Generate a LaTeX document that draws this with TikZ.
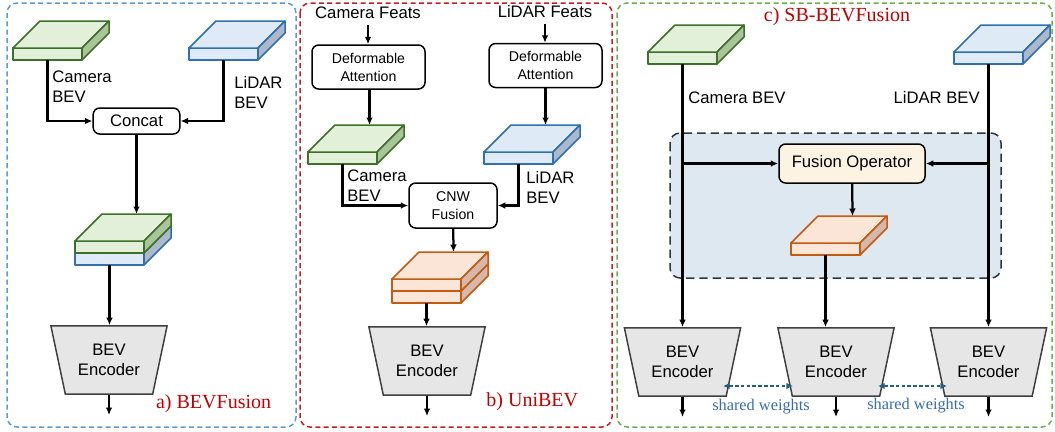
\documentclass[tikz,border=0pt]{standalone}
\usepackage{fontspec}
\setmainfont{Liberation Serif}
\setsansfont{Liberation Sans}
\usetikzlibrary{arrows.meta,shapes.geometric,calc}
\definecolor{camFill}{RGB}{226,240,217}
\definecolor{camSide}{RGB}{170,196,156}
\definecolor{camLine}{RGB}{62,112,40}
\definecolor{lidFill}{RGB}{222,235,247}
\definecolor{lidSide}{RGB}{173,185,202}
\definecolor{lidLine}{RGB}{46,112,176}
\definecolor{fusFill}{RGB}{251,229,214}
\definecolor{fusSide}{RGB}{212,184,172}
\definecolor{fusLine}{RGB}{197,90,17}
\definecolor{encFill}{RGB}{230,230,230}
\definecolor{encLine}{RGB}{64,64,64}
\definecolor{opFill}{RGB}{253,243,226}
\definecolor{regionFill}{RGB}{221,232,241}
\definecolor{regionLine}{RGB}{40,55,70}
\definecolor{frameBlue}{RGB}{91,155,213}
\definecolor{frameRed}{RGB}{200,30,30}
\definecolor{frameGreen}{RGB}{106,176,76}
\definecolor{titleRed}{RGB}{192,0,0}
\definecolor{shareLine}{RGB}{35,95,130}
\definecolor{shareText}{RGB}{55,110,170}

% one BEV feature slab: name, x, y (front top-left), colour prefix
\newcommand{\bevslab}[4]{%
  \begin{scope}[shift={(#2,#3)}, line width=0.9pt, line join=round]
    \filldraw[fill=#4Fill, draw=#4Line] (0,0) rectangle (69,12);
    \filldraw[fill=#4Fill, draw=#4Line] (0,0) -- (27,-27) -- (96,-27) -- (69,0) -- cycle;
    \filldraw[fill=#4Side, draw=#4Line] (69,0) -- (96,-27) -- (96,-15) -- (69,12) -- cycle;
    \coordinate (#1-top) at (61.5,-27);
    \coordinate (#1-bot) at (34.5,12);
  \end{scope}}
% two stacked slabs: name, x, y, top prefix, bottom prefix
\newcommand{\bevstack}[5]{%
  \begin{scope}[shift={(#2,#3)}, line width=0.9pt, line join=round]
    \filldraw[fill=#5Fill, draw=#5Line] (0,12) rectangle (69,24);
    \filldraw[fill=#5Side, draw=#5Line] (69,12) -- (96,-15) -- (96,-3) -- (69,24) -- cycle;
    \filldraw[fill=#4Fill, draw=#4Line] (0,0) rectangle (69,12);
    \filldraw[fill=#4Fill, draw=#4Line] (0,0) -- (27,-27) -- (96,-27) -- (69,0) -- cycle;
    \filldraw[fill=#4Side, draw=#4Line] (69,0) -- (96,-27) -- (96,-15) -- (69,12) -- cycle;
    \coordinate (#1-top) at (61.5,-27);
    \coordinate (#1-bot) at (34.5,24);
  \end{scope}}

\begin{document}
\begin{tikzpicture}[x=0.6pt, y=-0.6pt,
  font=\sffamily\fontsize{10}{12}\selectfont,
  arr/.style={-{Latex[length=4.5pt,width=4pt]}, line width=1.35pt},
  box/.style={draw, rounded corners=4pt, line width=0.9pt, fill=white, align=center, inner sep=1pt},
  small/.style={font=\sffamily\fontsize{8.5}{10.8}\selectfont},
  enc/.style={trapezium, trapezium angle=72, trapezium stretches=true, shape border rotate=180,
    minimum width=70pt, minimum height=41pt, inner sep=0pt, fill=encFill, draw=encLine,
    line width=0.9pt, align=center},
  lbl/.style={align=left, anchor=west, inner sep=0pt},
  panel/.style={dash pattern=on 3pt off 2pt, line width=0.9pt, rounded corners=6pt},
  title/.style={font=\rmfamily\fontsize{12}{14}\selectfont, text=titleRed},
  region/.style={fill=regionFill, draw=regionLine, dash pattern=on 5pt off 3pt, line width=0.9pt, rounded corners=6pt},
  shared/.style={{Latex[length=4pt,width=4pt]}-{Latex[length=4pt,width=4pt]}, dash pattern=on 2.2pt off 1.3pt,
    line width=0.9pt, draw=shareLine},
  sharedlbl/.style={font=\rmfamily\fontsize{9.8}{11}\selectfont, text=shareText}]
  \useasboundingbox (0,0) rectangle (1055,431);

  % a) BEVFusion
  \draw[panel, draw=frameBlue] (7,3) rectangle (296,427);
  \bevslab{camA}{13}{48}{cam}
  \bevslab{lidA}{189}{48}{lid}
  \node[lbl] (camLblA) at (52,87) {Camera\\BEV};
  \node[lbl] (lidLblA) at (234,92) {LiDAR\\BEV};
  \node[box, minimum width=52pt, minimum height=15.6pt] (concat) at (136.5,121) {Concat};
  \bevstack{catA}{75}{241}{cam}{lid}
  \node[enc] (encA) at (109,360) {BEV\\Encoder};
  \coordinate (outA) at (109,415);
  \node[title, anchor=east] (ttlA) at (277,404) {a) BEVFusion};
  \draw[arr] (camA-bot) |- (concat);
  \draw[arr] (lidA-bot) |- (concat);
  \draw[arr] (concat) -- (catA-top);
  \draw[arr] (catA-bot) -- (catA-bot |- encA.north);
  \draw[arr] (encA) -- (outA);

  % b) UniBEV
  \draw[panel, draw=frameRed] (300,3) rectangle (612,427);
  \node (camFeat) at (368,13) {Camera Feats};
  \node (lidFeat) at (545,12) {LiDAR Feats};
  \node[box, small, minimum width=67.8pt, minimum height=26.4pt] (defCam) at (368.5,67) {Deformable\\Attention};
  \node[box, small, minimum width=67.8pt, minimum height=26.4pt] (defLid) at (545.5,65.5) {Deformable\\Attention};
  \bevslab{camB}{308}{152}{cam}
  \bevslab{lidB}{484}{152}{lid}
  \node[lbl] (camLblB) at (347,186) {Camera\\BEV};
  \node[lbl] (lidLblB) at (526,187) {LiDAR\\BEV};
  \node[box, small, minimum width=52.8pt, minimum height=27pt] (cnw) at (453,205.5) {CNW\\Fusion};
  \bevstack{fusB}{392}{279}{fus}{fus}
  \node[enc] (encB) at (427,361) {BEV\\Encoder};
  \coordinate (outB) at (427,416);
  \node[title, anchor=east] (ttlB) at (584,402) {b) UniBEV};
  \draw[arr] (camFeat) -- (camFeat |- defCam.north);
  \draw[arr] (lidFeat) -- (lidFeat |- defLid.north);
  \draw[arr] (camB-top |- defCam.south) -- (camB-top);
  \draw[arr] (defLid) -- (lidB-top);
  \draw[arr] (camB-bot) |- (cnw);
  \draw[arr] (lidB-bot) |- (cnw);
  \draw[arr] (cnw) -- (fusB-top);
  \draw[arr] (fusB-bot) -- (fusB-bot |- encB.north);
  \draw[arr] (encB) -- (outB);

  % c) SB-BEVFusion
  \draw[panel, draw=frameGreen] (617,3) rectangle (1052,427);
  \node[title] (ttlC) at (837,17) {c) SB-BEVFusion};
  \draw[region] (670,133) rectangle (1001,278);
  \bevslab{camC}{648}{52}{cam}
  \bevslab{lidC}{954}{52}{lid}
  \node[lbl] (camLblC) at (688,98) {Camera BEV};
  \node[lbl, anchor=east] (lidLblC) at (980,97) {LiDAR BEV};
  \node[box, fill=opFill, minimum width=87.6pt, minimum height=23.4pt] (fusOp) at (852,163.5) {Fusion Operator};
  \bevslab{fusC}{791}{243}{fus}
  \node[enc] (encC1) at (682.5,362) {BEV\\Encoder};
  \node[enc] (encC2) at (836,362) {BEV\\Encoder};
  \node[enc] (encC3) at (988.5,362) {BEV\\Encoder};
  \coordinate (outC1) at (682.5,417);
  \coordinate (outC2) at (836,417);
  \coordinate (outC3) at (988.5,417);
  \draw[arr] (camC-bot) -- (camC-bot |- encC1.north);
  \draw[arr] (lidC-bot) -- (lidC-bot |- encC3.north);
  \draw[arr] (camC-bot |- fusOp.west) -- (fusOp.west);
  \draw[arr] (lidC-bot |- fusOp.east) -- (fusOp.east);
  \draw[arr] (fusOp) -- (fusC-top);
  \draw[arr] (fusC-bot) -- (fusC-bot |- encC2.north);
  \draw[arr] (encC1) -- (outC1);
  \draw[arr] (encC2) -- (outC2);
  \draw[arr] (encC3) -- (outC3);
  % shared weights
  \coordinate (shA1) at (723,386);
  \coordinate (shA2) at (793,386);
  \coordinate (shB1) at (878,386);
  \coordinate (shB2) at (947,386);
  \draw[shared] (shA1) -- (shA2);
  \draw[shared] (shB1) -- (shB2);
  \node[sharedlbl] (shLblA) at (761,407) {shared weights};
  \node[sharedlbl] (shLblB) at (916,406) {shared weights};
\end{tikzpicture}
\end{document}
